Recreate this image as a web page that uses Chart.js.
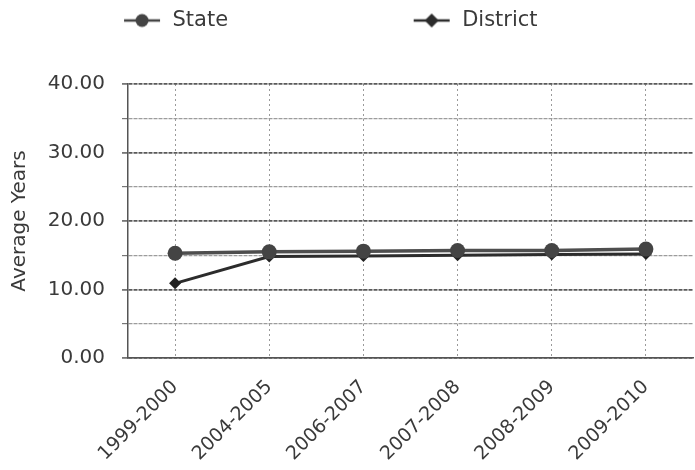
<!DOCTYPE html>
<html>
<head>
<meta charset="utf-8">
<script src="https://cdn.jsdelivr.net/npm/chart.js@4"></script>
<style>
  body { margin: 0; background: #fff; }
  #wrap { width: 695px; height: 470px; }
</style>
</head>
<body>
<div id="wrap"><canvas id="avgChart"></canvas></div>
<script>
const years = ['1999-2000', '2004-2005', '2006-2007', '2007-2008', '2008-2009', '2009-2010'];
const stateAvg = [15.3, 15.5, 15.6, 15.7, 15.7, 15.9];
const districtAvg = [10.9, 14.8, 14.9, 15.0, 15.1, 15.2];
const yMin = 0;
const yMax = 40;
const yStep = 5;

const font = 'DejaVu Sans';
const textColor = '#3a3a3a';

// small line + marker picture for the legend
function legendIcon(color, shape) {
  const c = document.createElement('canvas');
  c.width = 40;
  c.height = 16;
  const ctx = c.getContext('2d');
  ctx.strokeStyle = color;
  ctx.lineWidth = 2.5;
  ctx.beginPath();
  ctx.moveTo(2, 8);
  ctx.lineTo(38, 8);
  ctx.stroke();
  ctx.fillStyle = color;
  ctx.beginPath();
  if (shape === 'circle') {
    ctx.arc(20, 8, 6.5, 0, Math.PI * 2);
  } else {
    ctx.moveTo(20, 1);
    ctx.lineTo(27, 8);
    ctx.lineTo(20, 15);
    ctx.lineTo(13, 8);
    ctx.closePath();
  }
  ctx.fill();
  return c;
}

// leave room between legend and plot
const legendGap = {
  id: 'legendGap',
  beforeInit(chart) {
    const fit = chart.legend.fit;
    chart.legend.fit = function () {
      fit.call(this);
      this.height = 84;
    };
  }
};

const data = {
  labels: years,
  datasets: [{
    label: 'State',
    data: stateAvg,
    borderColor: '#4e4e4e',
    backgroundColor: '#3e3e3e',
    borderWidth: 3.5,
    pointStyle: 'circle',
    pointRadius: 7.5,
    pointBorderWidth: 0,
    pointBackgroundColor: '#444'
  }, {
    label: 'District',
    data: districtAvg,
    borderColor: '#2c2c2c',
    backgroundColor: '#222',
    borderWidth: 3,
    pointStyle: 'rectRot',
    pointRadius: 6,
    pointBorderWidth: 0,
    pointBackgroundColor: '#222'
  }]
};

const config = {
  type: 'line',
  data: data,
  plugins: [legendGap],
  options: {
    responsive: true,
    maintainAspectRatio: false,
    animation: false,
    layout: { autoPadding: false, padding: { top: 0, right: 2, bottom: 0, left: 0 } },
    plugins: {
      tooltip: { enabled: false },
      legend: {
        position: 'top',
        align: 'center',
        labels: {
          usePointStyle: true,
          pointStyleWidth: 40,
          padding: 10,
          color: textColor,
          font: { family: font, size: 21 },
          generateLabels: chart => [
            { text: 'State' + ' '.repeat(26), pointStyle: legendIcon('#444', 'circle'), fillStyle: 'transparent', strokeStyle: 'transparent', lineWidth: 0, datasetIndex: 0, fontColor: textColor },
            { text: 'District' + ' '.repeat(5), pointStyle: legendIcon('#2c2c2c', 'diamond'), fillStyle: 'transparent', strokeStyle: 'transparent', lineWidth: 0, datasetIndex: 1, fontColor: textColor }
          ]
        }
      }
    },
    scales: {
      x: {
        offset: true,
        afterFit: scale => { scale.height = 112; },
        grid: {
          offset: false,
          color: '#9a9a9a',
          lineWidth: 1,
          drawTicks: false
        },
        border: { display: true, color: '#555', width: 1.5, dash: [2, 3] },
        ticks: {
          color: textColor,
          font: { family: font, size: 19 },
          minRotation: 45,
          maxRotation: 45,
          padding: 18
        }
      },
      y: {
        min: yMin,
        max: yMax,
        afterFit: scale => { scale.width = 128; },
        grid: {
          color: ctx => ctx.tick && ctx.tick.value % 10 === 0 ? '#5a5a5a' : '#9c9c9c',
          lineWidth: ctx => ctx.tick && ctx.tick.value % 10 === 0 ? 1.8 : 1.2,
          tickLength: 6,
          tickColor: '#777'
        },
        border: { display: true, color: '#555', width: 1.5, dash: [4, 1] },
        ticks: {
          stepSize: yStep,
          color: textColor,
          font: { family: font, size: 20 },
          padding: 17,
          callback: v => v % 10 === 0 ? v.toFixed(2) : ''
        },
        title: {
          display: true,
          text: 'Average Years',
          color: textColor,
          font: { family: font, size: 20 },
          padding: { top: 8, bottom: 4 }
        }
      }
    }
  }
};

const avgChart = new Chart(
  document.getElementById('avgChart'),
  config
);
</script>
</body>
</html>
